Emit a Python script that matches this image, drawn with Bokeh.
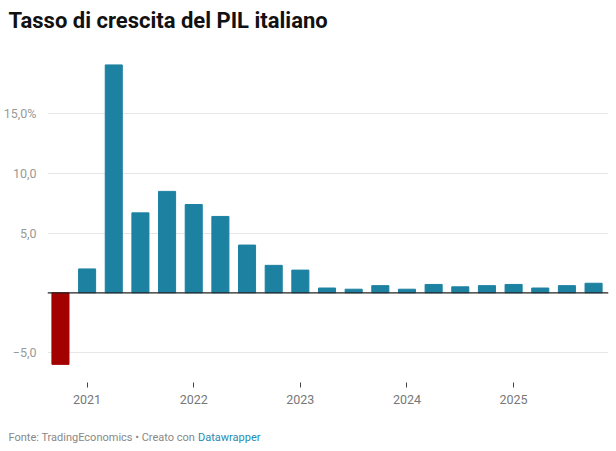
from bokeh.plotting import figure
from bokeh.layouts import column
from bokeh.models import ColumnDataSource, FixedTicker, Range1d, Span
from bokeh.core.properties import value
from bokeh.embed import file_html
from bokeh.resources import INLINE

# Italian GDP growth, year on year, quarterly from Q4 2020 to Q4 2025 (%)
quarters = ["T4 2020", "T1 2021", "T2 2021", "T3 2021", "T4 2021",
            "T1 2022", "T2 2022", "T3 2022", "T4 2022",
            "T1 2023", "T2 2023", "T3 2023", "T4 2023",
            "T1 2024", "T2 2024", "T3 2024", "T4 2024",
            "T1 2025", "T2 2025", "T3 2025", "T4 2025"]
growth = [-6.0, 2.0, 19.1, 6.7, 8.5,
          7.4, 6.4, 4.0, 2.3,
          1.9, 0.4, 0.3, 0.6,
          0.3, 0.7, 0.5, 0.6,
          0.7, 0.4, 0.6, 0.8]
year_ticks = [1, 5, 9, 13, 17]
year_labels = ["2021", "2022", "2023", "2024", "2025"]
y_ticks = [-5, 5, 10, 15]
y_labels = ["\u22125,0", "5,0", "10,0", "15,0%"]

title_text = "Tasso di crescita del PIL italiano"
source_text = "Fonte: TradingEconomics \u2022 Creato con"
credit_text = "Datawrapper"

BLUE = "#1d81a2"
RED = "#a30000"
FONT = "Roboto"
W = 616


def strip(height):
    """A bare figure whose frame fills it, addressed in pixels."""
    f = figure(width=W, height=height, output_backend="svg", toolbar_location=None,
               x_range=Range1d(0, W), y_range=Range1d(height, 0),
               x_axis_type=None, y_axis_type=None, min_border=0,
               frame_align=False)
    f.outline_line_color = None
    f.grid.grid_line_color = None
    return f


# header
head = strip(40)
head.text(x=[8], y=[20], text=[title_text], text_font=value(FONT),
          text_font_style="bold", text_font_size="22px", text_color="#111111",
          text_baseline="middle")

# main chart
idx = list(range(len(growth)))
colors = [RED if v < 0 else BLUE for v in growth]
src = ColumnDataSource(dict(x=idx, top=growth, color=colors, q=quarters))

p = figure(width=W, height=380, output_backend="svg", toolbar_location=None,
           x_range=Range1d(-0.486, 20.56), y_range=Range1d(-7.52, 20.31),
           min_border_left=45, min_border_right=8, min_border_top=10,
           min_border_bottom=38, frame_align=False)
p.outline_line_color = None

p.vbar(x="x", top="top", bottom=0, width=0.64, color="color", source=src)

# zero baseline
p.add_layout(Span(location=0, dimension="width", line_color="#222222", line_width=1.3))

p.yaxis.ticker = FixedTicker(ticks=y_ticks)
p.yaxis.major_label_overrides = {t: s for t, s in zip(y_ticks, y_labels)}
p.yaxis.axis_line_color = None
p.yaxis.major_tick_line_color = None
p.yaxis.minor_tick_line_color = None
p.yaxis.major_label_standoff = 5
p.yaxis.major_label_text_font = FONT
p.yaxis.major_label_text_font_size = "12.5px"
p.yaxis.major_label_text_color = "#999999"

p.ygrid.ticker = FixedTicker(ticks=y_ticks)
p.ygrid.grid_line_color = "#e6e6e6"
p.xgrid.grid_line_color = None

p.xaxis.ticker = FixedTicker(ticks=year_ticks)
p.xaxis.major_label_overrides = {t: s for t, s in zip(year_ticks, year_labels)}
p.xaxis.axis_line_color = None
p.xaxis.minor_tick_line_color = None
p.xaxis.major_tick_line_color = "#444444"
p.xaxis.major_tick_out = 5
p.xaxis.major_tick_in = 0
p.xaxis.major_label_standoff = 7
p.xaxis.major_label_text_font = FONT
p.xaxis.major_label_text_font_size = "12.5px"
p.xaxis.major_label_text_color = "#777777"

# footer
foot = strip(31)
foot.text(x=[8], y=[16.5], text=[source_text], text_font=value(FONT),
          text_font_size="11px", text_color="#888888", text_baseline="middle")
foot.text(x=[197.5], y=[16.5], text=[credit_text], text_font=value(FONT),
          text_font_size="11px", text_color="#2a8ab0", text_baseline="middle")

layout = column(head, p, foot, spacing=0)
open("out.html", "w").write(file_html(layout, INLINE))
